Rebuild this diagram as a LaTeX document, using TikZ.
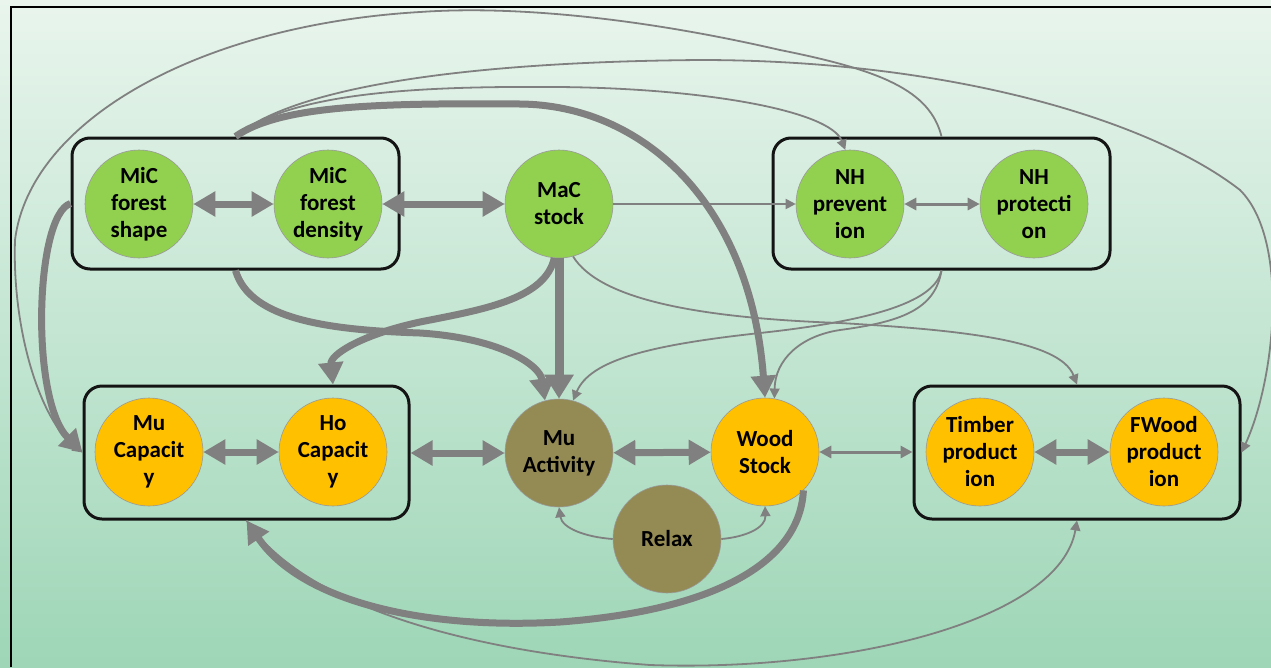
\documentclass[tikz,border=0pt]{standalone}
\usepackage{fontspec}
\newfontfamily\carlito{Carlito}
\usetikzlibrary{arrows.meta}
\definecolor{bgtop}{RGB}{233,245,237}
\definecolor{bgbot}{RGB}{158,214,183}
\definecolor{edgec}{RGB}{128,128,128}
\definecolor{cgreen}{RGB}{146,208,80}
\definecolor{corange}{RGB}{255,192,0}
\definecolor{colive}{RGB}{148,138,84}
\tikzset{
  circ/.style={circle, minimum size=108pt, inner sep=0pt, draw=gray!80, line width=0.6pt,
    align=center, font=\carlito\bfseries\fontsize{23}{27}\selectfont},
  grn/.style={circ, fill=cgreen},
  org/.style={circ, fill=corange},
  olv/.style={circ, fill=colive},
  gbox/.style={draw=black!92, line width=3pt, rounded corners=18pt, inner sep=0pt},
  thk/.style={draw=edgec, line width=7pt, -{Triangle[width=24pt,length=22pt]}},
  thkd/.style={draw=edgec, line width=7pt, {Triangle[width=24pt,length=22pt]}-{Triangle[width=24pt,length=22pt]}},
  medd/.style={draw=edgec, line width=3pt, {Triangle[width=12pt,length=12pt]}-{Triangle[width=12pt,length=12pt]}},
  thn/.style={draw=edgec, line width=1.8pt, -{Triangle[width=10pt,length=10pt]}},
  thnn/.style={draw=edgec, line width=1.8pt},
}
\begin{document}
\begin{tikzpicture}[x=1pt,y=-1pt]
\useasboundingbox (0,0) rectangle (1271,667);
\shade[top color=bgtop, bottom color=bgbot] (0,0) rectangle (1271,667);
\draw[line width=1.5pt, black] (11,667) -- (11,7) -- (1271,7);

% group boxes
\node[gbox, minimum width=327pt, minimum height=131pt] (g1) at (235.5,203.5) {};
\node[gbox, minimum width=337pt, minimum height=131pt] (g2) at (941.5,203.5) {};
\node[gbox, minimum width=325pt, minimum height=133pt] (g3) at (246.5,452.5) {};
\node[gbox, minimum width=326pt, minimum height=133pt] (g4) at (1077,452.5) {};

% circles
\node[grn] (s1) at (139,204) {MiC\\forest\\shape};
\node[grn] (s2) at (328,204) {MiC\\forest\\density};
\node[grn] (mc) at (559,204) {MaC\\stock};
\node[grn] (np) at (850,204) {NH\\prevent\\ion};
\node[grn] (nq) at (1034,204) {NH\\protecti\\on};
\node[org] (mu) at (149,452) {Mu\\Capacit\\y};
\node[org] (hc) at (333,452) {Ho\\Capacit\\y};
\node[olv] (ma) at (559,453) {Mu\\Activity};
\node[org] (ws) at (765,452) {Wood\\Stock};
\node[olv] (rx) at (667,539) {Relax};
\node[org] (tp) at (980,452) {Timber\\product\\ion};
\node[org] (fw) at (1164,452) {FWood\\product\\ion};

% straight connectors
\draw[thkd] (s1) -- (s2);
\draw[thkd] (s2) -- (mc);
\draw[thn] (mc) -- (np);
\draw[medd] (np) -- (nq);
\draw[thkd] (mu) -- (hc);
\draw[thkd] (g3.east |- ma) -- (ma);
\draw[thkd] (ma) -- (ws);
\draw[medd] (ws) -- (g4.west |- ws);
\draw[thkd] (tp) -- (fw);
\draw[thk, line width=9pt, -{Triangle[width=28pt,length=24pt]}] (mc) -- (ma);

% top curves
\draw[thnn, -{Triangle[width=10pt,length=10pt]}] (g2.north) .. controls (930,90) and (880,70) .. (780,50)
   .. controls (650,20) and (520,5) .. (420,12)
   .. controls (200,25) and (30,120) .. (15,240)
   .. controls (12,330) and (40,420) .. (g3.west);
\draw[thn] (g1.north) .. controls (290,90) and (450,62) .. (700,60)
   .. controls (950,60) and (1150,120) .. (1240,190)
   .. controls (1290,240) and (1275,380) .. (g4.east);
\draw[thn] (g1.north) .. controls (290,92) and (420,86) .. (557,87)
   .. controls (700,88) and (830,110) .. (np.95);
\draw[thk] (g1.north) .. controls (280,105) and (380,103) .. (520,104)
   .. controls (640,105) and (750,200) .. (ws.north);

% left thick
\draw[thk] (g1.west) .. controls (35,215) and (30,400) .. (g3.west);

% middle curves
\draw[thk] (g1.south) .. controls (250,320) and (330,330) .. (420,333)
   .. controls (500,338) and (540,365) .. (ma.105);
\draw[thk] (mc.-95) .. controls (545,300) and (480,310) .. (420,322)
   .. controls (360,335) and (330,355) .. (g3.north -| hc);
\draw[thn] (mc.-75) .. controls (600,300) and (700,318) .. (840,323)
   .. controls (960,330) and (1060,340) .. (g4.north);
\draw[thn] (g2.south) .. controls (935,300) and (880,320) .. (760,333)
   .. controls (650,345) and (590,360) .. (ma.75);
\draw[thn] (g2.south) .. controls (935,310) and (900,322) .. (840,330)
   .. controls (800,336) and (775,360) .. (ws.80);

% relax
\draw[thn] (rx.west) .. controls (585,537) and (562,528) .. (ma.south);
\draw[thn] (rx.east) .. controls (745,537) and (766,528) .. (ws.south);

% bottom curves
\draw[thn] (g3.south) .. controls (300,600) and (450,650) .. (650,665)
   .. controls (850,672) and (1060,620) .. (g4.south);
\draw[thk] (ws.-45) .. controls (800,560) and (720,610) .. (560,622)
   .. controls (420,630) and (300,600) .. (g3.south);
\end{tikzpicture}
\end{document}
